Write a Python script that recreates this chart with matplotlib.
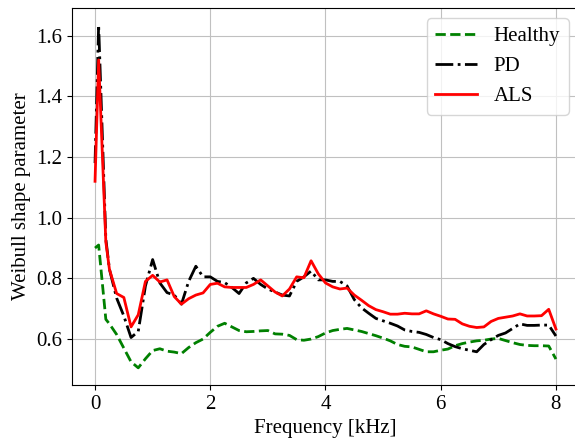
import numpy as np
import matplotlib
matplotlib.use('Agg')
import matplotlib.pyplot as plt

plt.rcParams['font.family'] = ['Liberation Serif', 'DejaVu Serif']
plt.rcParams['font.size'] = 15

# frequency grid in kHz
freq = np.concatenate([[0, 0.0625, 0.1875], np.arange(0.25, 8.001, 0.125)])

healthy = [0.90, 0.91, 0.665,
           0.65, 0.615, 0.57, 0.525, 0.505, 0.535, 0.562, 0.568, 0.560, 0.557,
           0.552, 0.572, 0.588, 0.600, 0.622, 0.642, 0.652, 0.640, 0.628, 0.624,
           0.625, 0.627, 0.628, 0.617, 0.616, 0.612, 0.598, 0.596, 0.600, 0.608,
           0.620, 0.628, 0.632, 0.635, 0.630, 0.625, 0.618, 0.611, 0.603, 0.594,
           0.582, 0.576, 0.574, 0.566, 0.558, 0.558, 0.563, 0.567, 0.578, 0.585,
           0.590, 0.594, 0.596, 0.600, 0.602, 0.595, 0.588, 0.582, 0.579, 0.578,
           0.578, 0.577, 0.534]

pd_vals = [1.18, 1.635, 0.93,
           0.83, 0.735, 0.676, 0.605, 0.625, 0.775, 0.862, 0.785, 0.753, 0.745,
           0.715, 0.79, 0.84, 0.805, 0.805, 0.79, 0.786, 0.77, 0.75, 0.785,
           0.80, 0.78, 0.765, 0.755, 0.745, 0.742, 0.79, 0.805, 0.824, 0.795,
           0.795, 0.79, 0.79, 0.775, 0.73, 0.703, 0.685, 0.668, 0.66, 0.652,
           0.643, 0.630, 0.625, 0.622, 0.615, 0.605, 0.598, 0.585, 0.575, 0.568,
           0.563, 0.558, 0.582, 0.598, 0.612, 0.620, 0.635, 0.650, 0.645, 0.645,
           0.646, 0.646, 0.610]

als = [1.12, 1.52, 0.92,
       0.83, 0.75, 0.737, 0.64, 0.68, 0.79, 0.81, 0.788, 0.795, 0.74,
       0.715, 0.733, 0.745, 0.752, 0.78, 0.784, 0.772, 0.77, 0.77, 0.77,
       0.78, 0.795, 0.775, 0.755, 0.742, 0.765, 0.805, 0.802, 0.858, 0.815,
       0.785, 0.772, 0.765, 0.768, 0.745, 0.728, 0.71, 0.697, 0.69, 0.682,
       0.682, 0.685, 0.683, 0.683, 0.693, 0.683, 0.675, 0.666, 0.665, 0.650,
       0.642, 0.638, 0.640, 0.658, 0.668, 0.672, 0.676, 0.683, 0.676, 0.676,
       0.677, 0.698, 0.633]

fig = plt.figure(figsize=(5.75, 4.4), dpi=100)
# axes runs past the right edge of the figure (reference is cropped there)
ax = fig.add_axes([0.1252, 0.125, 0.8817, 0.857])

ax.plot(freq, healthy, '--', color='green', lw=2, label='Healthy')
ax.plot(freq, pd_vals, '-.', color='black', lw=2, label='PD')
ax.plot(freq, als, '-', color='red', lw=2, label='ALS')

ax.set_xlabel('Frequency [kHz]')
ax.set_ylabel('Weibull shape parameter')
ax.set_xticks([0, 2, 4, 6, 8])
ax.set_yticks([0.6, 0.8, 1.0, 1.2, 1.4, 1.6])
ax.grid(True, color='#c0c0c0')
ax.set_axisbelow(True)
ax.spines['right'].set_visible(False)
ax.legend(loc='upper right')

fig.savefig('out.png', dpi=100)
